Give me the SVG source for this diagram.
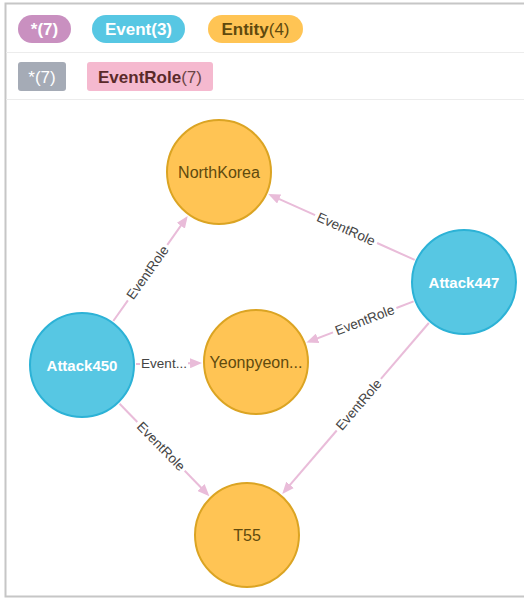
<svg xmlns="http://www.w3.org/2000/svg" width="524" height="599" viewBox="0 0 524 599">
<style>
  text { font-family: "Liberation Sans", Arial, sans-serif; }
  .sep { stroke: #ececec; stroke-width: 1; }
  .frame { stroke: #c6c6c6; stroke-width: 2; fill: none; }
  .lg { font-size: 17px; text-anchor: middle; }
  .b { font-weight: bold; }
  .edge { stroke: #e9bcd9; stroke-width: 2; fill: none; }
  .arrow { stroke: #e9bcd9; stroke-width: 2; fill: none; marker-end: url(#ah); }
  .elab { font-size: 13.5px; fill: #444; text-anchor: middle; dominant-baseline: central; }
  .entity circle { fill: #ffc454; stroke: #dba423; stroke-width: 2; }
  .entity text { font-size: 16px; fill: #604a0e; text-anchor: middle; }
  .event circle { fill: #57c7e3; stroke: #2cb2d6; stroke-width: 2; }
  .event text { font-size: 15px; font-weight: bold; fill: #ffffff; text-anchor: middle; }
</style>
<defs>
  <marker id="ah" markerUnits="userSpaceOnUse" markerWidth="12" markerHeight="10" refX="9" refY="5" orient="auto">
    <path d="M0,0 L12,5 L0,10 z" fill="#e9bcd9"/>
  </marker>
</defs>
<rect x="0" y="0" width="524" height="599" fill="#ffffff"/>
<path class="frame" d="M526,3.5 H5.5 V596.5 H526"/>
<line class="sep" x1="6" y1="52.5" x2="524" y2="52.5"/>
<line class="sep" x1="6" y1="99.5" x2="524" y2="99.5"/>

<g id="legend">
  <rect x="18" y="15" width="53" height="28" rx="14" fill="#c990c0"/>
  <text class="lg b" x="44.5" y="35" fill="#ffffff">*(7)</text>
  <rect x="92" y="15" width="93" height="28" rx="14" fill="#57c7e3"/>
  <text class="lg b" x="138.5" y="35" fill="#ffffff">Event(3)</text>
  <rect x="208" y="15" width="95" height="28" rx="14" fill="#ffc454"/>
  <text class="lg" x="255.5" y="35" fill="#604a0e"><tspan class="b">Entity</tspan>(4)</text>
  <rect x="18" y="62" width="48" height="29" rx="3" fill="#a5abb6"/>
  <text class="lg" x="42" y="82.5" fill="#ffffff">*(7)</text>
  <rect x="87" y="62" width="126" height="29" rx="3" fill="#f5b9cf"/>
  <text class="lg" x="150" y="82.5" fill="#6b4545"><tspan class="b" fill="#5a2a2a">EventRole</tspan>(7)</text>
</g>

<g id="connectors">
  <g id="e1">
    <line class="edge" x1="113.3" y1="321.0" x2="127.9" y2="300.3"/>
    <line class="arrow" x1="167.3" y1="244.9" x2="186.0" y2="218.4"/>
    <text class="elab" transform="translate(147.6,272.6) rotate(-54.6)">EventRole</text>
  </g>
  <g id="e2">
    <line class="edge" x1="136" y1="364.1" x2="140" y2="364.0"/>
    <line class="arrow" x1="188" y1="363.3" x2="199" y2="363.0"/>
    <text class="elab" transform="translate(164,363.5)">Event...</text>
  </g>
  <g id="e3">
    <line class="edge" x1="119.6" y1="403.8" x2="137.3" y2="422.0"/>
    <line class="arrow" x1="184.7" y1="470.8" x2="207.3" y2="494.0"/>
    <text class="elab" transform="translate(161.0,446.4) rotate(45.8)">EventRole</text>
  </g>
  <g id="e4">
    <line class="edge" x1="414.7" y1="259.9" x2="377.1" y2="243.0"/>
    <line class="arrow" x1="315.1" y1="215.2" x2="271.0" y2="195.3"/>
    <text class="elab" transform="translate(346.1,229.1) rotate(24.2)">EventRole</text>
  </g>
  <g id="e5">
    <line class="edge" x1="413.6" y1="301.4" x2="396.4" y2="308.0"/>
    <line class="arrow" x1="333.0" y1="332.4" x2="309.2" y2="341.5"/>
    <text class="elab" transform="translate(364.7,320.2) rotate(-21)">EventRole</text>
  </g>
  <g id="e6">
    <line class="edge" x1="428.8" y1="323.0" x2="380.9" y2="378.9"/>
    <line class="arrow" x1="336.7" y1="430.5" x2="284.2" y2="491.7"/>
    <text class="elab" transform="translate(358.8,404.7) rotate(-49.4)">EventRole</text>
  </g>
</g>

<g id="NorthKorea" class="entity">
  <circle cx="219" cy="172" r="52"/>
  <text x="219" y="177.5">NorthKorea</text>
</g>
<g id="Yeonpyeon" class="entity">
  <circle cx="256" cy="362" r="52"/>
  <text x="256" y="367.5">Yeonpyeon...</text>
</g>
<g id="T55" class="entity">
  <circle cx="247" cy="535" r="52"/>
  <text x="247" y="540.5">T55</text>
</g>
<g id="Attack447" class="event">
  <circle cx="464" cy="282" r="52"/>
  <text x="464" y="287.5">Attack447</text>
</g>
<g id="Attack450" class="event">
  <circle cx="82" cy="365" r="52"/>
  <text x="82" y="370.5">Attack450</text>
</g>
</svg>
